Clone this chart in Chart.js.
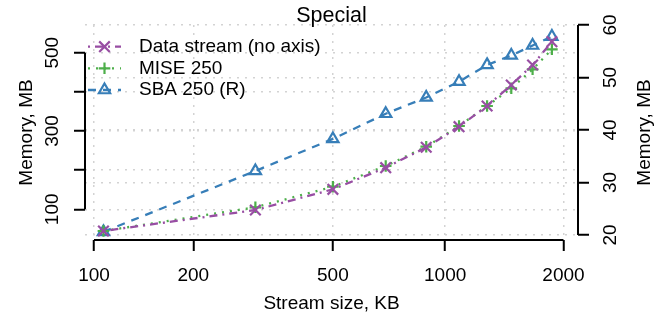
<!DOCTYPE html>
<html>
<head>
<meta charset="utf-8">
<title>Special</title>
<script src="https://cdn.jsdelivr.net/npm/chart.js@4/dist/chart.umd.min.js"></script>
<style>
  html, body { margin: 0; padding: 0; background: #ffffff; }
  #wrap { width: 669px; height: 320px; }
</style>
</head>
<body>
<div id="wrap"><canvas id="chart" width="669" height="320"></canvas></div>
<script>
// ---- data -------------------------------------------------------------
const streamSizes = [107, 303, 500, 696, 892, 1087, 1284, 1480, 1675, 1872];   // KB
const dataStream  = [44.6, 98.2, 151.1, 206.3, 258.4, 311.0, 363.9, 417.5, 468.6, 528.1];
const mise250     = [44.6, 105.1, 157.7, 210.6, 259.9, 312.8, 363.9, 409.1, 457.6, 508.7]; // MB, left axis
const sba250      = [20.6, 32.2, 38.3, 43.1, 46.2, 49.2, 52.4, 54.2, 56.1, 57.8];          // MB, right axis

const xTicks       = [100, 200, 500, 1000, 2000];
const leftTicks    = [100, 200, 300, 400, 500];
const leftLabelled = [100, 300, 500];
const rightTicks   = [20, 30, 40, 50, 60];

const seriesNames = ['Data stream (no axis)', 'MISE 250', 'SBA 250 (R)'];

// ---- styling ------------------------------------------------------------
const FONT = 'Liberation Sans, Arial, Helvetica, sans-serif';
const PURPLE = '#984EA3', GREEN = '#4DAF4A', BLUE = '#377EB8';
const X_EXPONENT = 0.076;   // power transform used by the stream-size axis

Chart.defaults.font.family = FONT;
Chart.defaults.font.size = 19;
Chart.defaults.color = '#000';

// Stream-size axis: positions follow value^X_EXPONENT
class PowerScale extends Chart.Scale {
  static id = 'power';
  static defaults = {};
  determineDataLimits() {
    this.min = this.options.min;
    this.max = this.options.max;
  }
  buildTicks() {
    return xTicks.map(v => ({ value: v }));
  }
  configure() {
    super.configure();
    this._lo = Math.pow(this.min, X_EXPONENT);
    this._span = Math.pow(this.max, X_EXPONENT) - this._lo;
  }
  getLabelForValue(v) { return String(v); }
  getPixelForTick(i) { return this.getPixelForValue(this.ticks[i].value); }
  getPixelForValue(v) {
    return this.getPixelForDecimal((Math.pow(v, X_EXPONENT) - this._lo) / this._span);
  }
  getValueForPixel(px) {
    return Math.pow(this.getDecimalForPixel(px) * this._span + this._lo, 1 / X_EXPONENT);
  }
}
Chart.register(PowerScale);

const toPoints = arr => streamSizes.map((x, i) => ({ x, y: arr[i] }));

const gridOpts = {
  color: '#d3d3d3',
  lineWidth: 1.5,
  tickLength: 11,
  tickColor: '#000',
  tickWidth: 2,
  tickBorderDash: []
};
const borderOpts = { display: false, dash: [2, 6] };

const series = [
  { label: seriesNames[0], data: toPoints(dataStream), yAxisID: 'yStream',
    borderColor: PURPLE, borderDash: [2, 5, 8, 5], pointStyle: 'crossRot', pointRadius: 7.5 },
  { label: seriesNames[1], data: toPoints(mise250), yAxisID: 'y',
    borderColor: GREEN, borderDash: [2, 6], pointStyle: 'cross', pointRadius: 5.8 },
  { label: seriesNames[2], data: toPoints(sba250), yAxisID: 'y2',
    borderColor: BLUE, borderDash: [8, 7], pointStyle: 'triangle', pointRadius: 6.5 }
].map(d => Object.assign({
  borderWidth: 2.3,
  pointBorderColor: d.borderColor,
  pointBackgroundColor: 'rgba(0,0,0,0)',
  pointBorderWidth: 2.2,
  tension: 0,
  fill: false
}, d));

// Axis lines run from the first to the last tick only
const axisLines = {
  id: 'axisLines',
  afterDraw(chart) {
    const { ctx, chartArea: a, scales } = chart;
    const x = scales.x, y = scales.y, y2 = scales.y2;
    ctx.save();
    ctx.strokeStyle = '#000';
    ctx.lineWidth = 2;
    ctx.beginPath();
    ctx.moveTo(x.getPixelForValue(xTicks[0]), a.bottom);
    ctx.lineTo(x.getPixelForValue(xTicks[xTicks.length - 1]), a.bottom);
    ctx.moveTo(a.left, y.getPixelForValue(leftTicks[0]));
    ctx.lineTo(a.left, y.getPixelForValue(leftTicks[leftTicks.length - 1]));
    ctx.moveTo(a.right, y2.getPixelForValue(rightTicks[0]));
    ctx.lineTo(a.right, y2.getPixelForValue(rightTicks[rightTicks.length - 1]));
    ctx.stroke();
    ctx.restore();
  }
};

// Title, axis titles and the legend
const annotations = {
  id: 'annotations',
  afterDraw(chart) {
    const { ctx, chartArea: a } = chart;
    const cx = (a.left + a.right) / 2;
    const cy = (a.top + a.bottom) / 2;
    ctx.save();
    ctx.fillStyle = '#000';
    ctx.textAlign = 'center';
    ctx.textBaseline = 'alphabetic';
    ctx.font = '21.5px ' + FONT;
    ctx.fillText('Special', cx, 22);
    ctx.font = '19px ' + FONT;
    ctx.fillText('Stream size, KB', cx, 309);
    ctx.textBaseline = 'middle';
    [[27, 'Memory, MB'], [645, 'Memory, MB']].forEach(([tx, txt]) => {
      ctx.save();
      ctx.translate(tx, cy);
      ctx.rotate(-Math.PI / 2);
      ctx.fillText(txt, 0, 0);
      ctx.restore();
    });

    // legend
    const rowY = [46.7, 68.3, 90];
    chart.data.datasets.forEach((ds, i) => {
      const yy = rowY[i];
      ctx.save();
      ctx.strokeStyle = ds.borderColor;
      ctx.lineWidth = ds.borderWidth;
      ctx.setLineDash(ds.borderDash);
      ctx.beginPath();
      ctx.moveTo(88, yy);
      ctx.lineTo(121, yy);
      ctx.stroke();
      ctx.setLineDash([]);
      ctx.lineWidth = ds.pointBorderWidth;
      ctx.fillStyle = 'rgba(0,0,0,0)';
      Chart.helpers.drawPoint(ctx, {
        pointStyle: ds.pointStyle, radius: ds.pointRadius, rotation: 0, borderWidth: ds.pointBorderWidth
      }, 104.5, yy);
      ctx.restore();
      ctx.textAlign = 'left';
      ctx.fillStyle = '#000';
      ctx.fillText(ds.label, 139, yy);
    });
    ctx.restore();
  }
};

new Chart(document.getElementById('chart'), {
  type: 'line',
  data: { datasets: series },
  options: {
    responsive: false,
    animation: false,
    events: [],
    layout: { padding: { top: 25, left: 0, right: 0, bottom: 0 } },
    plugins: { legend: { display: false }, title: { display: false }, tooltip: { enabled: false } },
    scales: {
      x: {
        type: 'power', position: 'bottom', min: 93.75, max: 2172.6,
        afterFit: s => { s.height = 80; },
        ticks: { padding: 13, maxRotation: 0, autoSkip: false, callback: v => String(v) },
        grid: gridOpts, border: borderOpts
      },
      y: {
        type: 'linear', position: 'left', min: 21.6, max: 570.75,
        afterBuildTicks: s => { s.ticks = leftTicks.map(v => ({ value: v })); },
        afterFit: s => { s.width = 85; },
        ticks: { minRotation: 90, maxRotation: 90, crossAlign: 'center', padding: 5, autoSkip: false,
                 callback: v => leftLabelled.includes(v) ? String(v) : '' },
        grid: gridOpts, border: borderOpts
      },
      y2: {
        type: 'linear', position: 'right', min: 19.048, max: 60,
        afterBuildTicks: s => { s.ticks = rightTicks.map(v => ({ value: v })); },
        afterFit: s => { s.width = 91; },
        ticks: { minRotation: 90, maxRotation: 90, crossAlign: 'center', padding: 11, autoSkip: false,
                 callback: v => String(v) },
        grid: gridOpts, border: borderOpts
      },
      yStream: { type: 'linear', display: false, min: 21.6, max: 570.75 }
    }
  },
  plugins: [axisLines, annotations]
});
</script>
</body>
</html>
